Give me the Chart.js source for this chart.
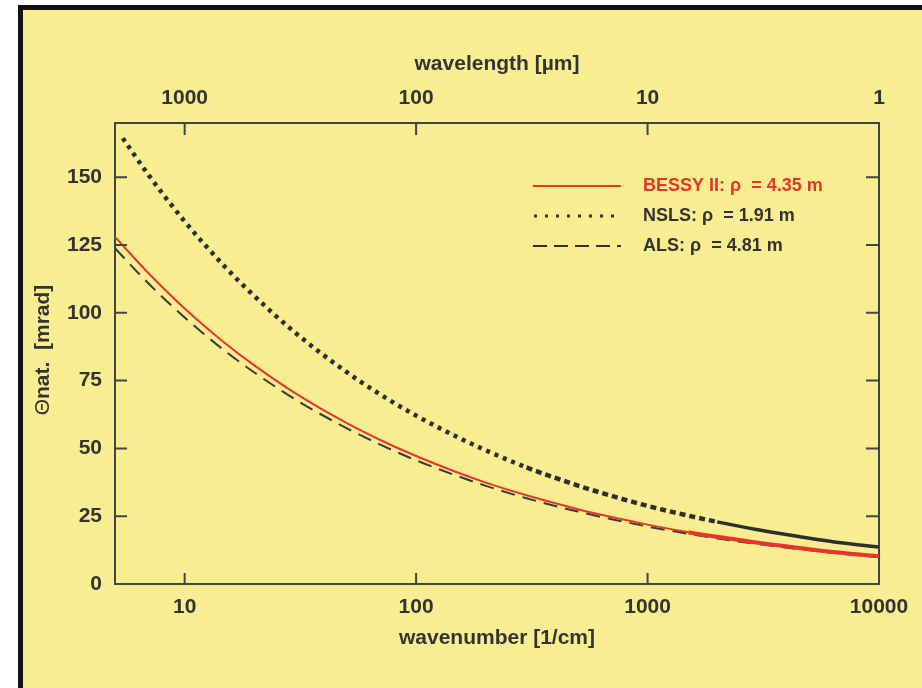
<!DOCTYPE html>
<html>
<head>
<meta charset="utf-8">
<script src="https://cdn.jsdelivr.net/npm/chart.js@4"></script>
<style>
  html, body { margin: 0; padding: 0; background: #fff; overflow: hidden; }
  #frame {
    position: absolute; left: 18px; top: 5px; width: 1000px; height: 800px;
    border-left: 5px solid #111; border-top: 5px solid #111; background: #f8ed91;
  }
  #wrap { position: absolute; left: 0; top: 0; width: 922px; height: 688px; }
</style>
</head>
<body>
<div id="frame"></div>
<div id="wrap"><canvas id="chart"></canvas></div>
<script>
// values, natural opening angle in mrad
const wavenumber = [5, 7, 10, 15, 20, 30, 50, 70, 100, 150, 200, 300, 500, 700, 1000, 1500, 2000, 3000, 5000, 7000, 10000];
const nslsWavenumber = [5.4, 7, 10, 15, 20, 30, 50, 70, 100, 150, 200, 300, 500, 700, 1000, 1500, 2000, 3000, 5000, 7000, 10000];
const bessy = [128, 114.5, 101.6, 88.7, 80.6, 70.4, 59.4, 53.1, 47.2, 41.2, 37.4, 32.7, 27.6, 24.7, 21.9, 19.1, 17.4, 15.2, 12.8, 11.4, 10.2];
const nsls = [164.4, 150.7, 133.7, 116.8, 106.2, 92.7, 78.2, 69.9, 62.1, 54.3, 49.3, 43.0, 36.3, 32.5, 28.8, 25.2, 22.9, 20.0, 16.9, 15.1, 13.6];
const als = [123.8, 110.7, 98.3, 85.8, 78.0, 68.1, 57.5, 51.4, 45.6, 39.9, 36.2, 31.6, 26.7, 23.9, 21.2, 18.5, 16.8, 14.7, 12.4, 11.1, 9.9];

const bottomTicks = [10, 100, 1000, 10000];
const topTicks = [1, 10, 100, 1000];       // wavelength in µm
const yTicks = [0, 25, 50, 75, 100, 125, 150];

const legendItems = ["BESSY II: \u03C1  = 4.35 m", "NSLS: \u03C1  = 1.91 m", "ALS: \u03C1  = 4.81 m"];

const FONT = "'Liberation Sans', Arial, sans-serif";
const INK = "#333";
const RED = "#e8352b";

const pts = (xs, ys) => xs.map((x, i) => ({ x, y: ys[i] }));
const setTicks = list => s => { s.ticks = list.map(v => ({ value: v })); };

// inward tick marks on all four sides, plus legend and y title
const decor = {
  id: "decor",
  afterDraw(chart) {
    const { ctx, chartArea: a, scales } = chart;
    ctx.save();
    ctx.strokeStyle = "#444";
    ctx.lineWidth = 2;
    ctx.beginPath();
    bottomTicks.forEach(v => {
      const x = scales.x.getPixelForValue(v);
      ctx.moveTo(x, a.bottom); ctx.lineTo(x, a.bottom - 11);
    });
    topTicks.forEach(v => {
      const x = scales.x2.getPixelForValue(v);
      ctx.moveTo(x, a.top); ctx.lineTo(x, a.top + 12);
    });
    yTicks.forEach(v => {
      const y = scales.y.getPixelForValue(v);
      ctx.moveTo(a.left, y); ctx.lineTo(a.left + 12, y);
      ctx.moveTo(a.right, y); ctx.lineTo(a.right - 13, y);
    });
    ctx.stroke();

    // legend
    const ly = [186, 216, 246];
    ctx.lineWidth = 2;
    ctx.strokeStyle = RED;
    ctx.setLineDash([]);
    ctx.beginPath(); ctx.moveTo(533, ly[0]); ctx.lineTo(621, ly[0]); ctx.stroke();
    ctx.strokeStyle = "#333";
    ctx.lineWidth = 3;
    ctx.setLineDash([3, 8]);
    ctx.beginPath(); ctx.moveTo(534, ly[1]); ctx.lineTo(621, ly[1]); ctx.stroke();
    ctx.lineWidth = 2;
    ctx.setLineDash([14, 7]);
    ctx.beginPath(); ctx.moveTo(533, ly[2]); ctx.lineTo(621, ly[2]); ctx.stroke();
    ctx.setLineDash([]);
    ctx.font = "bold 18px " + FONT;
    ctx.textBaseline = "middle";
    ctx.textAlign = "left";
    legendItems.forEach((t, i) => {
      ctx.fillStyle = i === 0 ? RED : INK;
      ctx.fillText(t, 643, ly[i]);
    });

    // y axis title: Θnat.  [mrad]
    ctx.translate(43, 350);
    ctx.rotate(-Math.PI / 2);
    const f1 = "21px " + FONT, f2 = "bold 21px " + FONT;
    const p1 = "\u0398", p2 = "nat.  [mrad]";
    ctx.font = f1; const w1 = ctx.measureText(p1).width;
    ctx.font = f2; const w2 = ctx.measureText(p2).width;
    const x0 = -(w1 + w2) / 2;
    ctx.fillStyle = INK;
    ctx.font = f1; ctx.fillText(p1, x0, 0);
    ctx.font = f2; ctx.fillText(p2, x0 + w1, 0);
    ctx.restore();
  }
};

const tickFont = { family: FONT, size: 21, weight: "bold" };
const titleFont = { family: FONT, size: 21, weight: "bold" };
const border = { display: true, color: "#444", width: 2 };

new Chart(document.getElementById("chart"), {
  type: "line",
  data: {
    datasets: [
      { label: "BESSY II", data: pts(wavenumber, bessy),
        borderColor: RED, borderWidth: 2, pointRadius: 0, cubicInterpolationMode: "monotone",
        segment: { borderWidth: c => c.p0.parsed.x >= 1400 ? 4 : 2 } },
      { label: "NSLS", data: pts(nslsWavenumber, nsls),
        borderColor: "#2e2e2e", borderWidth: 4.5, pointRadius: 0, cubicInterpolationMode: "monotone",
        borderCapStyle: "butt",
        segment: {
          borderDash: c => c.p0.parsed.x >= 2000 ? [] : c.p0.parsed.x >= 300 ? [6, 4] : [4, 5],
          borderWidth: c => c.p0.parsed.x >= 2000 ? 3.5 : 4.5,
        } },
      { label: "ALS", data: pts(wavenumber, als),
        borderColor: "#3a3a3a", borderWidth: 2, borderDash: [14, 8], pointRadius: 0,
        cubicInterpolationMode: "monotone" },
    ],
  },
  options: {
    responsive: true, maintainAspectRatio: false, animation: false,
    layout: { padding: 0 },
    plugins: { legend: { display: false }, tooltip: { enabled: false } },
    scales: {
      x: {
        type: "logarithmic", position: "bottom", min: 5, max: 10000,
        afterBuildTicks: setTicks(bottomTicks),
        afterFit: s => { s.height = 104; },
        grid: { display: false, drawTicks: false }, border,
        ticks: { font: tickFont, color: INK, padding: 11, maxRotation: 0, autoSkip: false, callback: v => String(v) },
        title: { display: true, text: "wavenumber [1/cm]", font: titleFont, color: INK, padding: { top: 8, bottom: 37 } },
      },
      x2: {
        type: "logarithmic", position: "top", reverse: true, min: 1, max: 2000,
        afterBuildTicks: setTicks(topTicks),
        afterFit: s => { s.height = 123; },
        grid: { display: false, drawTicks: false }, border,
        ticks: { font: tickFont, color: INK, padding: 12, maxRotation: 0, autoSkip: false, callback: v => String(v) },
        title: { display: true, text: "wavelength [\u00B5m]", font: titleFont, color: INK, padding: { top: 52, bottom: 0 } },
      },
      y: {
        type: "linear", position: "left", min: 0, max: 170,
        afterBuildTicks: setTicks(yTicks),
        afterFit: s => { s.width = 115; },
        grid: { display: false, drawTicks: false }, border,
        ticks: { font: tickFont, color: INK, padding: 13 },
      },
      y2: {
        type: "linear", position: "right", min: 0, max: 170,
        afterFit: s => { s.width = 43; },
        grid: { display: false, drawTicks: false }, border,
        ticks: { display: false },
      },
    },
  },
  plugins: [decor],
});
</script>
</body>
</html>
